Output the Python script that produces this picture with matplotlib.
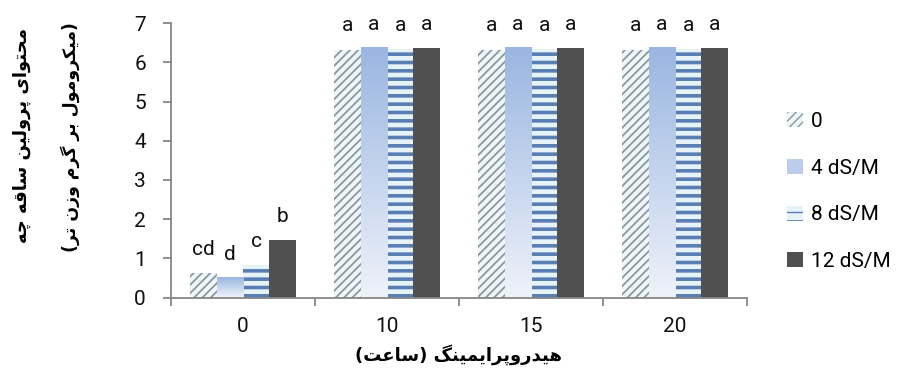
import numpy as np
import matplotlib
matplotlib.use("Agg")
import matplotlib.pyplot as plt
from matplotlib.colors import LinearSegmentedColormap
from matplotlib.patches import Patch

# ---------------- data ----------------
categories = ["0", "10", "15", "20"]
series_names = ["0", "4 dS/M", "8 dS/M", "12 dS/M"]
v_0 = [0.62, 6.33, 6.33, 6.33]
v_4 = [0.50, 6.38, 6.38, 6.38]
v_8 = [0.83, 6.34, 6.34, 6.34]
v_12 = [1.47, 6.37, 6.36, 6.37]
letters_0 = ["cd", "a", "a", "a"]
letters_4 = ["d", "a", "a", "a"]
letters_8 = ["c", "a", "a", "a"]
letters_12 = ["b", "a", "a", "a"]
ylabel_line1 = "محتوای پرولین ساقه چه"
ylabel_line2 = "(میکرومول بر گرم وزن تر)"
xlabel_text = "هیدروپرایمینگ (ساعت)"

# ------------- simple Persian shaping for display -------------
_FORMS = {
    '\u0627': ('\uFE8D', '\uFE8E', None, None),
    '\u0628': ('\uFE8F', '\uFE90', '\uFE91', '\uFE92'),
    '\u062A': ('\uFE95', '\uFE96', '\uFE97', '\uFE98'),
    '\u062D': ('\uFEA1', '\uFEA2', '\uFEA3', '\uFEA4'),
    '\u0686': ('\uFB7A', '\uFB7B', '\uFB7C', '\uFB7D'),
    '\u062F': ('\uFEA9', '\uFEAA', None, None),
    '\u0631': ('\uFEAD', '\uFEAE', None, None),
    '\u0632': ('\uFEAF', '\uFEB0', None, None),
    '\u0633': ('\uFEB1', '\uFEB2', '\uFEB3', '\uFEB4'),
    '\u0639': ('\uFEC9', '\uFECA', '\uFECB', '\uFECC'),
    '\u0642': ('\uFED5', '\uFED6', '\uFED7', '\uFED8'),
    '\u06A9': ('\uFB8E', '\uFB8F', '\uFB90', '\uFB91'),
    '\u06AF': ('\uFB92', '\uFB93', '\uFB94', '\uFB95'),
    '\u0644': ('\uFEDD', '\uFEDE', '\uFEDF', '\uFEE0'),
    '\u0645': ('\uFEE1', '\uFEE2', '\uFEE3', '\uFEE4'),
    '\u0646': ('\uFEE5', '\uFEE6', '\uFEE7', '\uFEE8'),
    '\u0647': ('\uFEE9', '\uFEEA', '\uFEEB', '\uFEEC'),
    '\u0648': ('\uFEED', '\uFEEE', None, None),
    '\u06CC': ('\uFBFC', '\uFBFD', '\uFBFE', '\uFBFF'),
    '\u067E': ('\uFB56', '\uFB57', '\uFB58', '\uFB59'),
}


def _dual(c):
    return c in _FORMS and _FORMS[c][2] is not None


def shape_rtl(s):
    out = []
    n = len(s)
    for i, c in enumerate(s):
        if c not in _FORMS:
            out.append(c)
            continue
        prev_join = i > 0 and _dual(s[i - 1])
        next_join = _dual(c) and i < n - 1 and s[i + 1] in _FORMS
        iso, fin, ini, med = _FORMS[c]
        if prev_join and next_join:
            out.append(med)
        elif prev_join:
            out.append(fin)
        elif next_join:
            out.append(ini)
        else:
            out.append(iso)
    vis = ''.join(reversed(out))
    vis = vis.translate(str.maketrans({'(': ')', ')': '('}))
    return vis


# ---------------- figure ----------------
W, H = 903, 370
fig = plt.figure(figsize=(W / 100, H / 100), dpi=100)
ax = fig.add_axes([171 / W, 1 - 297.5 / H, (747 - 171) / W, (297.5 - 23.3) / H])

tick_font = "Roboto"
fs = 15

x = np.arange(len(categories))
bw = 0.184
offsets = (np.arange(4) - 1.5) * bw

c_hatch_bg = "#eef6f8"
c_hatch_ln = "#8a97a2"
c_stripe_bg = "#e6f3f8"
c_stripe_ln = "#5a7db3"
c_dark = "#505050"
grad_top = "#9ab6e1"
grad_bot = "#eef2fa"
grad_cmap = LinearSegmentedColormap.from_list("g", [grad_bot, grad_top])

b0 = ax.bar(x + offsets[0], v_0, bw, color=c_hatch_bg, edgecolor=c_hatch_ln,
            linewidth=0, hatch="////", zorder=2)
b4 = ax.bar(x + offsets[1], v_4, bw, color="none", linewidth=0, zorder=2)
b8 = ax.bar(x + offsets[2], v_8, bw, color=c_stripe_bg, edgecolor=c_stripe_ln,
            linewidth=0, hatch="--", zorder=2)
b12 = ax.bar(x + offsets[3], v_12, bw, color=c_dark, linewidth=0, zorder=2)

for p in b0:
    if hasattr(p, "set_hatch_linewidth"):
        p.set_hatch_linewidth(1.3)
for p in b8:
    if hasattr(p, "set_hatch_linewidth"):
        p.set_hatch_linewidth(2.6)

grad = np.linspace(0, 1, 256).reshape(-1, 1)
for p in b4:
    x0 = p.get_x()
    w = p.get_width()
    h = p.get_height()
    ax.imshow(grad, extent=[x0, x0 + w, 0, h], origin="lower", aspect="auto",
              cmap=grad_cmap, zorder=2, interpolation="bilinear")

for cont, labs in zip([b0, b4, b8, b12], [letters_0, letters_4, letters_8, letters_12]):
    for p, lab in zip(cont, labs):
        ax.annotate(lab, (p.get_x() + p.get_width() / 2, p.get_height()),
                    xytext=(0, 13), textcoords="offset points",
                    ha="center", va="baseline", fontsize=fs, family=tick_font,
                    color="#111111")

ax.set_xlim(-0.5, len(categories) - 0.5)
ax.set_ylim(0, 7)
ax.set_yticks(range(0, 8))
ax.set_xticks(x)
ax.set_xticklabels(categories)
ax.set_xticks(np.arange(-0.5, len(categories)), minor=True)

for s in ["top", "right"]:
    ax.spines[s].set_visible(False)
for s in ["left", "bottom"]:
    ax.spines[s].set_color("#868686")
    ax.spines[s].set_linewidth(1.3)

ax.tick_params(axis="y", direction="out", length=6, width=1.3, color="#868686",
               pad=12, labelsize=fs)
ax.tick_params(axis="x", which="major", length=0, pad=14, labelsize=fs)
ax.tick_params(axis="x", which="minor", direction="out", length=6, width=1.3,
               color="#868686")
for lab in ax.get_xticklabels() + ax.get_yticklabels():
    lab.set_family(tick_font)
    lab.set_color("#111111")

# legend
handles = [
    Patch(facecolor=c_hatch_bg, edgecolor=c_hatch_ln, hatch="////", linewidth=0),
    Patch(facecolor="#bccdeb", linewidth=0),
    Patch(facecolor=c_stripe_bg, edgecolor=c_stripe_ln, hatch="--", linewidth=0),
    Patch(facecolor=c_dark, linewidth=0),
]
leg = ax.legend(handles, series_names, loc="upper left",
                bbox_to_anchor=(787 / W, 1 - 112 / H), bbox_transform=fig.transFigure,
                frameon=False, prop={"family": tick_font, "size": fs},
                handlelength=0.78, handleheight=0.72, handletextpad=0.35,
                labelspacing=1.33, borderpad=0, borderaxespad=0)

# axis titles (Persian)
fa_font = ["DejaVu Sans"]
fig.text(22 / W, 1 - 135 / H, shape_rtl(ylabel_line1), rotation=90, ha="center",
         va="center", fontsize=13, fontweight="bold", family=fa_font)
fig.text(70 / W, 1 - 137 / H, shape_rtl(ylabel_line2), rotation=90, ha="center",
         va="center", fontsize=12.5, fontweight="bold", family=fa_font)
fig.text(459 / W, 1 - 355 / H, shape_rtl(xlabel_text), ha="center", va="center",
         fontsize=13, fontweight="bold", family=fa_font)

fig.savefig("out.png", dpi=100)
